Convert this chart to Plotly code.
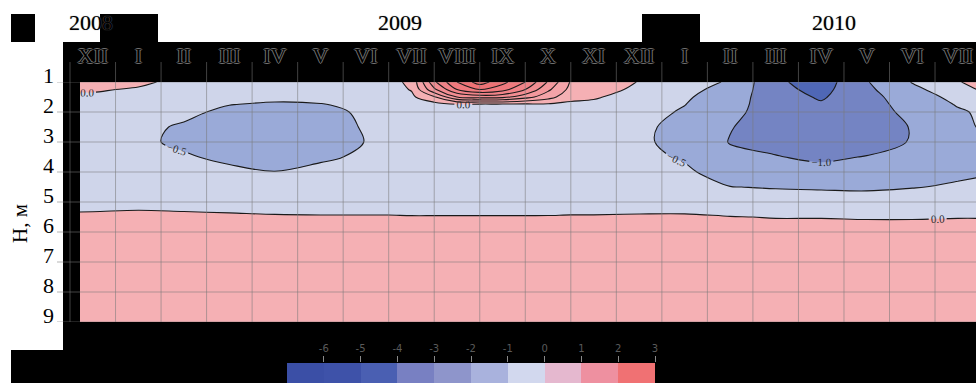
import plotly.graph_objects as go

# Time axis: 0 = December 2008, one unit per month
survey_months = [-0.7, 0, 1, 2, 3, 4, 5, 6, 6.5, 7, 7.5, 8, 8.5, 9, 9.5, 10,
                 10.5, 11, 12, 13, 14, 15, 16, 17, 18, 19, 19.5]
depths = [1.0, 1.25, 1.5, 1.75, 2.0, 2.5, 3.0, 3.5, 4.0, 4.5, 5.0, 5.5, 6.0, 9.0]

# Temperature anomaly (deg C), one row per depth, one value per survey
t_d100 = [0.25, 0.20, 0.10, -0.15, -0.20, -0.20, -0.20, -0.30, -0.15, 0.10, 1.90, 3.00, 3.75, 3.15,
          2.50, 1.45, 0.45, 0.30, -0.02, -0.30, -0.55, -1.40, -1.75, -1.03, -0.48, -0.05, 0.25]
t_d125 = [0.03, 0.05, -0.05, -0.22, -0.28, -0.30, -0.30, -0.32, -0.20, 0.03, 1.40, 2.50, 3.00, 2.70,
          2.00, 1.10, 0.35, 0.20, -0.10, -0.38, -0.65, -1.35, -1.65, -1.10, -0.60, -0.25, 0.05]
t_d150 = [-0.10, -0.08, -0.15, -0.28, -0.35, -0.40, -0.38, -0.35, -0.25, -0.10, 0.45, 1.50, 1.70, 1.65,
          1.20, 0.70, 0.15, 0.05, -0.20, -0.44, -0.75, -1.30, -1.55, -1.18, -0.70, -0.38, -0.20]
t_d175 = [-0.15, -0.15, -0.22, -0.33, -0.49, -0.55, -0.52, -0.40, -0.28, -0.20, -0.20, -0.05, -0.10, -0.10,
          -0.10, -0.08, -0.10, -0.10, -0.28, -0.49, -0.82, -1.25, -1.45, -1.22, -0.78, -0.47, -0.35]
t_d200 = [-0.20, -0.20, -0.28, -0.40, -0.60, -0.65, -0.62, -0.43, -0.30, -0.25, -0.25, -0.22, -0.25, -0.25,
          -0.25, -0.22, -0.20, -0.18, -0.33, -0.55, -0.88, -1.22, -1.40, -1.25, -0.85, -0.55, -0.45]
t_d250 = [-0.25, -0.27, -0.40, -0.55, -0.70, -0.75, -0.70, -0.46, -0.35, -0.30, -0.28, -0.28, -0.28, -0.28,
          -0.28, -0.27, -0.26, -0.25, -0.40, -0.65, -0.98, -1.20, -1.35, -1.30, -0.97, -0.62, -0.47]
t_d300 = [-0.30, -0.32, -0.42, -0.58, -0.72, -0.78, -0.70, -0.49, -0.37, -0.32, -0.30, -0.30, -0.30, -0.30,
          -0.30, -0.30, -0.29, -0.28, -0.42, -0.65, -1.02, -1.12, -1.25, -1.20, -0.97, -0.65, -0.60]
t_d350 = [-0.30, -0.33, -0.38, -0.45, -0.60, -0.68, -0.56, -0.44, -0.35, -0.30, -0.30, -0.30, -0.30, -0.30,
          -0.30, -0.30, -0.29, -0.28, -0.38, -0.55, -0.90, -0.98, -1.08, -0.98, -0.85, -0.62, -0.60]
t_d400 = [-0.28, -0.30, -0.33, -0.35, -0.40, -0.49, -0.40, -0.36, -0.30, -0.28, -0.28, -0.28, -0.28, -0.28,
          -0.28, -0.28, -0.27, -0.26, -0.30, -0.42, -0.72, -0.78, -0.85, -0.80, -0.70, -0.58, -0.55]
t_d450 = [-0.22, -0.24, -0.25, -0.26, -0.28, -0.33, -0.30, -0.28, -0.26, -0.25, -0.25, -0.25, -0.25, -0.25,
          -0.25, -0.24, -0.23, -0.22, -0.22, -0.30, -0.49, -0.53, -0.55, -0.57, -0.52, -0.45, -0.40]
t_d500 = [-0.12, -0.13, -0.12, -0.14, -0.16, -0.19, -0.19, -0.19, -0.20, -0.20, -0.20, -0.20, -0.20, -0.20,
          -0.20, -0.19, -0.18, -0.18, -0.16, -0.15, -0.22, -0.28, -0.30, -0.30, -0.25, -0.20, -0.20]
t_d550 = [0.06, 0.07, 0.10, 0.08, 0.06, 0.04, 0.03, 0.03, 0.03, 0.02, 0.02, 0.02, 0.02, 0.02,
          0.02, 0.02, 0.03, 0.03, 0.04, 0.04, 0.01, -0.01, -0.01, -0.02, -0.02, -0.01, -0.01]
t_d600 = [0.18, 0.18, 0.20, 0.20, 0.20, 0.20, 0.20, 0.20, 0.20, 0.20, 0.20, 0.20, 0.20, 0.20,
          0.20, 0.20, 0.20, 0.20, 0.18, 0.15, 0.10, 0.10, 0.10, 0.10, 0.10, 0.10, 0.10]
t_d900 = [0.30] * 27

anomaly = [t_d100, t_d125, t_d150, t_d175, t_d200, t_d250, t_d300, t_d350,
           t_d400, t_d450, t_d500, t_d550, t_d600, t_d900]
for row in anomaly:
    assert len(row) == len(survey_months)

month_labels = ["XII", "I", "II", "III", "IV", "V", "VI", "VII", "VIII", "IX", "X", "XI",
                "XII", "I", "II", "III", "IV", "V", "VI", "VII"]
depth_ticks = [1, 2, 3, 4, 5, 6, 7, 8, 9]
years = ["2008", "2009", "2010"]

# isotherm levels and the fill colour of each band (below first level ... above last)
level_start, level_end, level_step = -1.5, 3.5, 0.5
band_colors = ["#4f67b6", "#7484c3", "#9aaad8", "#cfd5ea", "#f5b0b4", "#f4a3a8",
               "#f3989d", "#f28d92", "#f18388", "#f07a7e", "#ef7275", "#ee6a6b"]

# colour scale strip
scale_ticks = [-6, -5, -4, -3, -2, -1, 0, 1, 2, 3]
scale_min = -7
scale_colors = ["#3b4fa6", "#3e52a9", "#4a5fb2", "#7880c2", "#8e95cb",
                "#a9b2dd", "#d2d8ee", "#e5b8cf", "#ee90a0", "#f07173"]


def step_scale(colors):
    n = len(colors)
    out = []
    for i, c in enumerate(colors):
        out.append([i / n, c])
        out.append([(i + 1) / n, c])
    return out


# page geometry (pixels)
W, H = 976, 383
ML, MT = 63, 82
PW, PH = W - ML, H - MT


def px(xp):
    return (xp - ML) / PW


def py(yp):
    return (H - yp) / PH


main_bottom = py(322)
serif = "Liberation Serif"
outline = "1px 0 #707070, -1px 0 #707070, 0 1px #707070, 0 -1px #707070"

fig = go.Figure()

# filled isotherm bands
fig.add_trace(go.Contour(
    x=survey_months, y=depths, z=anomaly,
    autocontour=False,
    contours=dict(start=level_start, end=level_end, size=level_step, coloring="fill"),
    colorscale=step_scale(band_colors), zmin=level_start - level_step,
    zmax=level_end + level_step,
    line=dict(width=0), showscale=False, hoverinfo="skip",
))
# isotherm lines without labels
fig.add_trace(go.Contour(
    x=survey_months, y=depths, z=anomaly, autocontour=False,
    contours=dict(start=0.5, end=level_end, size=level_step, coloring="none"),
    line=dict(color="#1a1a1a", width=1.1), showscale=False, hoverinfo="skip",
))
fig.add_trace(go.Contour(
    x=survey_months, y=depths, z=anomaly, autocontour=False,
    contours=dict(start=-1.5, end=-1.5, size=level_step, coloring="none"),
    line=dict(color="#1a1a1a", width=1.1), showscale=False, hoverinfo="skip",
))
# labelled isotherms
fig.add_trace(go.Contour(
    x=survey_months, y=depths, z=anomaly, autocontour=False,
    contours=dict(start=-1.0, end=0.0, size=level_step, coloring="none",
                  showlabels=True, labelformat=".1f",
                  labelfont=dict(family=serif, size=11, color="#2a2a2a")),
    line=dict(color="#1a1a1a", width=1.1), showscale=False, hoverinfo="skip",
))

# colour scale strip
fig.add_trace(go.Heatmap(
    x=[t - 0.5 for t in scale_ticks], y=[0],
    z=[[t - 0.5 for t in scale_ticks]],
    zmin=scale_min, zmax=scale_ticks[-1],
    colorscale=step_scale(scale_colors), showscale=False,
    xaxis="x2", yaxis="y2", hoverinfo="skip",
))

shapes = []
black = dict(type="rect", xref="paper", yref="paper", fillcolor="black",
             line=dict(width=0), layer="below")
# header band, corner blocks and footer
shapes.append(dict(black, x0=0, x1=1, y0=1, y1=py(42)))
shapes.append(dict(black, x0=px(11), x1=px(35), y0=py(42), y1=py(14)))
shapes.append(dict(black, x0=px(100), x1=px(158), y0=py(42), y1=py(14)))
shapes.append(dict(black, x0=px(642), x1=px(700), y0=py(42), y1=py(14)))
shapes.append(dict(black, x0=0, x1=1, y0=0, y1=main_bottom))
shapes.append(dict(black, x0=px(11), x1=0, y0=0, y1=py(350)))
# left strip over the plotting area
shapes.append(dict(black, x0=0, x1=px(80), y0=main_bottom, y1=1, layer="above"))

grid = dict(color="rgba(120,120,120,0.55)", width=1)
for d in depth_ticks:
    shapes.append(dict(type="line", xref="paper", yref="y", x0=px(57), x1=1,
                       y0=d, y1=d, line=grid, layer="above"))
for m in range(-1, len(month_labels)):
    b = m + 0.5
    if b > 19.4:
        continue
    shapes.append(dict(type="line", xref="x", yref="paper", x0=b, x1=b,
                       y0=main_bottom, y1=py(62), line=grid, layer="above"))

annotations = []
year_x = [px(91), px(400), px(834)]
for label, xp in zip(years, year_x):
    annotations.append(dict(text=label, xref="paper", yref="paper", x=xp, y=py(23),
                            showarrow=False, xanchor="center", yanchor="middle",
                            font=dict(family=serif, size=22, color="black",
                                      shadow="0 0 1px #808080")))
annotations.append(dict(text="H, м", xref="paper", yref="paper", x=px(20), y=py(224),
                        showarrow=False, textangle=-90, xanchor="center", yanchor="middle",
                        font=dict(family=serif, size=21, color="black")))

fig.update_layout(
    width=W, height=H,
    margin=dict(l=ML, r=0, t=MT, b=0, pad=0, autoexpand=False),
    paper_bgcolor="white", plot_bgcolor="white",
    showlegend=False,
    shapes=shapes, annotations=annotations,
    xaxis=dict(domain=[0, 1], range=[-0.654, 19.40], side="top", automargin=False,
               tickvals=list(range(len(month_labels))), ticktext=month_labels,
               ticks="", showgrid=False, zeroline=False, showline=False,
               ticklabelstandoff=14,
               tickfont=dict(family=serif, size=22, color="black", shadow=outline)),
    yaxis=dict(domain=[main_bottom, 1], range=[9, 1], tickvals=depth_ticks, automargin=False,
               ticks="", showgrid=False, zeroline=False, showline=False,
               ticklabelstandoff=8, ticklabelshift=7,
               tickfont=dict(family=serif, size=22, color="black")),
    xaxis2=dict(domain=[px(287), px(655)], anchor="y2", range=[scale_min, scale_ticks[-1]],
                side="top", tickvals=scale_ticks, ticktext=[str(t) for t in scale_ticks],
                ticks="outside", ticklen=6, tickcolor="#8a8a8a", tickwidth=1, automargin=False,
                showgrid=False, zeroline=False, showline=False,
                tickfont=dict(family="DejaVu Sans", size=10, color="#5a5a5a")),
    yaxis2=dict(domain=[0, py(363)], anchor="x2", range=[-0.5, 0.5], visible=False,
                automargin=False),
)

fig.write_html("out.html")
